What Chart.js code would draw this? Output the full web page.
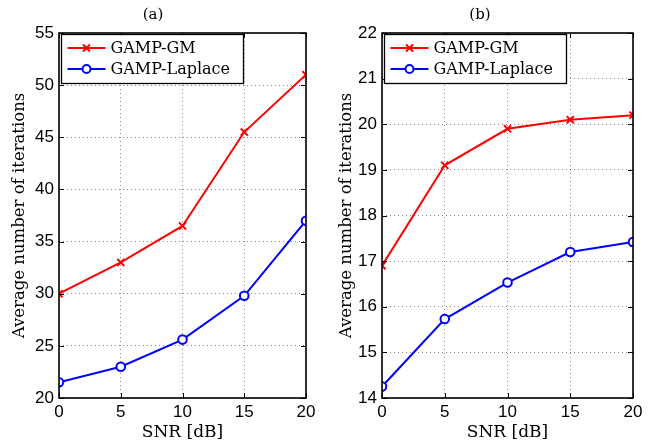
<!DOCTYPE html>
<html><head><meta charset="utf-8">
<script src="https://cdn.jsdelivr.net/npm/chart.js@4/dist/chart.umd.min.js"></script>
<style>
html,body{margin:0;padding:0;background:#fff;}
#wrap{position:relative;width:655px;height:445px;overflow:hidden;}
canvas{position:absolute;top:0;}
</style></head>
<body><div id="wrap"><canvas id="ca" width="327" height="445" style="left:0"></canvas><canvas id="cb" width="328" height="445" style="left:327px"></canvas></div>
<script>
const snr = [0, 5, 10, 15, 20];
const seriesNames = ['GAMP-GM', 'GAMP-Laplace'];
const gmA = [30, 33, 36.5, 45.5, 51];
const lapA = [21.5, 23, 25.6, 29.8, 37];
const gmB = [16.9, 19.1, 19.9, 20.1, 20.2];
const lapB = [14.25, 15.73, 16.53, 17.2, 17.42];
const panelTitles = ['(a)', '(b)'];
const yRangeA = [20, 55, 5];
const yRangeB = [14, 22, 1];
const xLabel = 'SNR [dB]';
const yLabel = 'Average number of iterations';

const SERIF = '"DejaVu Serif", serif';
const SANS = '"Liberation Sans", Arial, sans-serif';

const boxPlugin = {
  id: 'boxPlugin',
  afterDraw(chart) {
    const ctx = chart.ctx, a = chart.chartArea;
    const xs = chart.scales.x, ys = chart.scales.y;
    ctx.save();
    ctx.strokeStyle = '#000'; ctx.lineWidth = 1.6; ctx.setLineDash([]);
    ctx.strokeRect(Math.round(a.left), Math.round(a.top), Math.round(a.right - a.left), Math.round(a.bottom - a.top));
    ctx.lineWidth = 1;
    const tl = 5;
    ctx.beginPath();
    xs.ticks.forEach(t => {
      const x = Math.round(xs.getPixelForValue(t.value)) + 0.5;
      ctx.moveTo(x, a.bottom); ctx.lineTo(x, a.bottom - tl);
      ctx.moveTo(x, a.top); ctx.lineTo(x, a.top + tl);
    });
    ys.ticks.forEach(t => {
      const y = Math.round(ys.getPixelForValue(t.value)) + 0.5;
      ctx.moveTo(a.left, y); ctx.lineTo(a.left + tl, y);
      ctx.moveTo(a.right, y); ctx.lineTo(a.right - tl, y);
    });
    ctx.stroke();
    // legend
    const L = Math.round(a.left) + 2.5, T = Math.round(a.top) + 1.5, W = 182, H = 49;
    ctx.fillStyle = '#fff';
    ctx.fillRect(L, T, W, H);
    ctx.lineWidth = 1.3;
    ctx.strokeRect(L, T, W, H);
    chart.data.datasets.forEach((ds, i) => {
      const y = T + 13.5 + i * 21;
      ctx.strokeStyle = ds.borderColor; ctx.lineWidth = 2;
      ctx.beginPath(); ctx.moveTo(L + 6, y); ctx.lineTo(L + 44, y); ctx.stroke();
      const mx = L + 25;
      if (ds.pointStyle === 'crossRot') {
        ctx.beginPath(); ctx.moveTo(mx - 3.5, y - 3.5); ctx.lineTo(mx + 3.5, y + 3.5);
        ctx.moveTo(mx + 3.5, y - 3.5); ctx.lineTo(mx - 3.5, y + 3.5); ctx.stroke();
      } else {
        ctx.fillStyle = '#fff';
        ctx.beginPath(); ctx.arc(mx, y, 4, 0, Math.PI * 2); ctx.fill(); ctx.stroke();
      }
      ctx.fillStyle = '#000';
      ctx.font = '16px ' + SERIF;
      ctx.textBaseline = 'middle'; ctx.textAlign = 'left';
      ctx.fillText(ds.label, L + 49, y + 1);
    });
    ctx.restore();
  }
};

function makeChart(id, title, gm, lap, yr, yw, padRight) {
  return new Chart(document.getElementById(id), {
    type: 'line',
    data: {
      datasets: [
        { label: seriesNames[0], data: snr.map((x, i) => ({x, y: gm[i]})), borderColor: '#ff0000', backgroundColor: '#ff0000',
          borderWidth: 2, pointStyle: 'crossRot', pointRadius: 5, pointBorderWidth: 2, tension: 0 },
        { label: seriesNames[1], data: snr.map((x, i) => ({x, y: lap[i]})), borderColor: '#0000ff', backgroundColor: '#ffffff',
          borderWidth: 2, pointStyle: 'circle', pointRadius: 4.3, pointBorderWidth: 2, tension: 0 }
      ]
    },
    options: {
      responsive: false, animation: false, devicePixelRatio: 1,
      layout: { autoPadding: false, padding: { left: 0, right: padRight, top: 0, bottom: 0 } },
      plugins: {
        legend: { display: false }, tooltip: { enabled: false },
        title: { display: true, text: title, color: '#000', font: { family: SERIF, size: 15, weight: 'normal', lineHeight: 1.2 }, padding: { top: 6, bottom: 9 } }
      },
      scales: {
        x: {
          type: 'linear', min: 0, max: 20,
          ticks: { stepSize: 5, color: '#000', font: { family: SANS, size: 17 }, padding: 4, maxRotation: 0 },
          grid: { color: 'rgba(0,0,0,0.45)', drawTicks: false, lineWidth: 1 },
          border: { display: false, dash: [1, 3] },
          title: { display: true, text: xLabel, color: '#000', font: { family: SERIF, size: 17 }, padding: { top: 0, bottom: 2 } },
          afterFit: s => { s.height = 47; }
        },
        y: {
          min: yr[0], max: yr[1],
          ticks: { stepSize: yr[2], color: '#000', font: { family: SANS, size: 17 }, padding: 5 },
          grid: { color: 'rgba(0,0,0,0.45)', drawTicks: false, lineWidth: 1 },
          border: { display: false, dash: [1, 3] },
          title: { display: true, text: yLabel, color: '#000', font: { family: SERIF, size: 16.5 }, padding: { top: 10, bottom: 0 } },
          afterFit: s => { s.width = yw; }
        }
      }
    },
    plugins: [boxPlugin]
  });
}
makeChart('ca', panelTitles[0], gmA, lapA, yRangeA, 59, 21);
makeChart('cb', panelTitles[1], gmB, lapB, yRangeB, 55, 22);
</script></body></html>
